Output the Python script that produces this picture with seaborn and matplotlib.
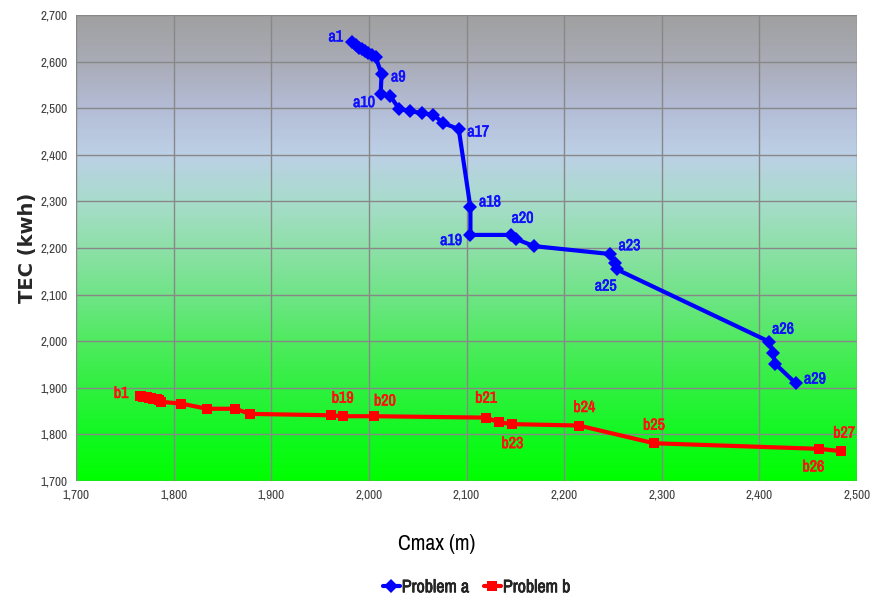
import numpy as np
import pandas as pd
import matplotlib
matplotlib.use('Agg')
import matplotlib.pyplot as plt
import matplotlib.patheffects as pe
from matplotlib import font_manager
from matplotlib.colors import LinearSegmentedColormap
from matplotlib.ticker import FuncFormatter
import seaborn as sns

# Problem a (blue)
a_labels = ['a%d' % i for i in range(1, 30)]
a_cmax = [1983, 1987, 1990, 1993, 1996, 1999, 2003, 2007, 2013,
          2012, 2022, 2031, 2042, 2054, 2066, 2076, 2092,
          2104, 2104, 2146, 2151, 2169, 2247, 2252, 2254,
          2410, 2414, 2416, 2437]
a_tec = [2641, 2635, 2630, 2626, 2622, 2618, 2614, 2609, 2573,
         2530, 2526, 2498, 2494, 2489, 2486, 2468, 2455,
         2287, 2228, 2228, 2219, 2204, 2187, 2167, 2154,
         1999, 1974, 1952, 1910]

# Problem b (red)
b_labels = ['b%d' % i for i in range(1, 28)]
b_cmax = [1766, 1767, 1769, 1770, 1772, 1773, 1775, 1777, 1779, 1781, 1783, 1785, 1787,
          1808, 1834, 1863, 1878, 1961, 1973, 2005,
          2120, 2133, 2147, 2215, 2292, 2461, 2484]
b_tec = [1882, 1882, 1881, 1881, 1880, 1880, 1879, 1878, 1877, 1876, 1875, 1873, 1870,
         1866, 1855, 1855, 1844, 1841, 1839, 1839,
         1836, 1826, 1822, 1819, 1781, 1769, 1764]

# which points get a label, and where the label sits (offset in points)
a_shown = {'a1': (-12, 4), 'a9': (12, -2), 'a10': (-12, -6), 'a17': (14, -2), 'a18': (14, 4),
           'a20': (8, 12), 'a19': (-14, -4), 'a23': (14, 6), 'a25': (-8, -12),
           'a26': (10, 9), 'a29': (14, 3)}
b_shown = {'b1': (-14, 2), 'b19': (0, 13), 'b20': (8, 11), 'b21': (0, 14), 'b23': (0, -14),
           'b24': (4, 13), 'b25': (0, 13), 'b26': (-4, -13), 'b27': (2, 13)}

df = pd.concat([
    pd.DataFrame({'Cmax': a_cmax, 'TEC': a_tec, 'label': a_labels, 'series': 'Problem a'}),
    pd.DataFrame({'Cmax': b_cmax, 'TEC': b_tec, 'label': b_labels, 'series': 'Problem b'}),
])

# the original uses a narrow face: take the first installed family with "Narrow" in it
narrow = 'DejaVu Sans'
for f in font_manager.fontManager.ttflist:
    if 'Narrow' in f.name:
        narrow = f.name
        break

sns.set_style('white')
plt.rcParams['font.family'] = [narrow, 'DejaVu Sans']


def fake_bold(color, w=0.45):
    return [pe.withStroke(linewidth=w, foreground=color)]


fig = plt.figure(figsize=(8.77, 5.95), dpi=100)
ax = fig.add_axes([0.0867, 0.1916, 0.8905, 0.7833])

# gradient background
grad = LinearSegmentedColormap.from_list('bg', [
    (0.0, '#00ff00'), (0.1, '#12f822'), (0.2, '#30f040'), (0.3, '#50ea60'),
    (0.4, '#70e488'), (0.5, '#8ee0a8'), (0.6, '#a8dccc'), (0.7, '#bcd0e6'),
    (0.8, '#b4bcd6'), (0.9, '#a9abb6'), (1.0, '#a0a0a0')])
ax.imshow(np.linspace(0, 1, 256).reshape(-1, 1), cmap=grad, origin='lower',
          extent=[1700, 2500, 1700, 2700], aspect='auto', zorder=0)

palette = {'Problem a': '#0000ff', 'Problem b': '#ff0000'}
sns.lineplot(data=df, x='Cmax', y='TEC', hue='series', style='series', palette=palette,
             markers={'Problem a': 'D', 'Problem b': 's'}, dashes=False, sort=False,
             estimator=None, linewidth=3, markersize=7, markeredgewidth=0, ax=ax, zorder=3)

for lab, x, y in zip(a_labels, a_cmax, a_tec):
    if lab in a_shown:
        ax.annotate(lab, (x, y), xytext=a_shown[lab], textcoords='offset points',
                    ha='center', va='center', color='#1010ff', fontsize=11.5, zorder=4,
                    path_effects=fake_bold('#1010ff'))
for lab, x, y in zip(b_labels, b_cmax, b_tec):
    if lab in b_shown:
        ax.annotate(lab, (x, y), xytext=b_shown[lab], textcoords='offset points',
                    ha='center', va='center', color='#ff1010', fontsize=11.5, zorder=4,
                    path_effects=fake_bold('#ff1010'))

ax.set_xlim(1700, 2500)
ax.set_ylim(1700, 2700)
ax.set_xticks(range(1700, 2501, 100))
ax.set_yticks(range(1700, 2701, 100))
fmt = FuncFormatter(lambda v, p: '{:,.0f}'.format(v))
ax.xaxis.set_major_formatter(fmt)
ax.yaxis.set_major_formatter(fmt)
ax.grid(True, color='#888888', linewidth=1, zorder=1)
ax.set_axisbelow(False)
for s in ax.spines.values():
    s.set_visible(False)
ax.tick_params(axis='both', length=0, labelsize=9.5, labelcolor='#404040')
ax.tick_params(axis='x', pad=6)
ax.tick_params(axis='y', pad=6)

ax.set_xlabel('Cmax (m)', fontsize=15.5, color='black')
ax.xaxis.set_label_coords(0.462, -0.113)
ax.set_ylabel('TEC (kwh)', fontsize=14, fontweight='bold', family=['DejaVu Sans'])
ax.yaxis.set_label_coords(-0.05, 0.5)

leg = ax.legend(loc='center', bbox_to_anchor=(0.513, -0.228), ncol=2, frameon=False,
                handlelength=0.95, handletextpad=0.1, columnspacing=0.8, fontsize=13)
for t in leg.get_texts():
    t.set_path_effects(fake_bold('black', 0.45))

fig.savefig('out.png', dpi=100)
